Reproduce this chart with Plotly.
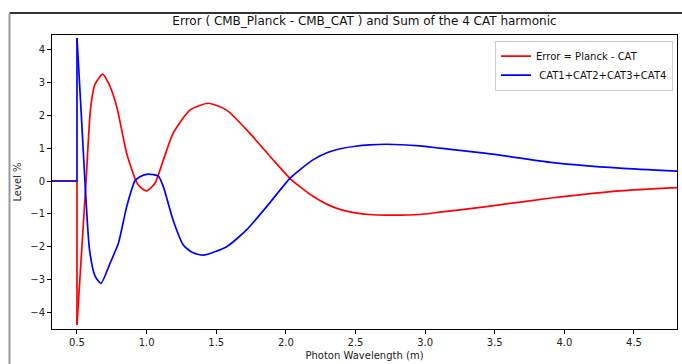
import plotly.graph_objects as go

# Error = Planck - CAT (red): flat part + jump, then the smooth part
err_flat_x = [0.32, 0.5, 0.5]
err_flat_y = [0.0, 0.0, -4.39]
err_x = [0.5, 0.53, 0.565, 0.593, 0.61, 0.63, 0.684, 0.73, 0.785, 0.857, 0.924,
         0.952, 1.0, 1.06, 1.12, 1.19, 1.311, 1.443, 1.575, 1.742, 1.909, 2.034, 2.10,
         2.2, 2.3, 2.4, 2.5, 2.6, 2.723, 2.962, 3.106, 3.441, 3.919, 4.398, 4.81]
err_y = [-4.39, -2.36, 0.0, 2.0, 2.6, 2.95, 3.26, 2.95, 2.27, 0.84, 0.0,
         -0.17, -0.30, -0.07, 0.64, 1.45, 2.16, 2.37, 2.16, 1.45, 0.64, 0.06, -0.17,
         -0.48, -0.72, -0.88, -0.97, -1.02, -1.04, -1.02, -0.95, -0.78, -0.51, -0.30, -0.20]

# CAT1+CAT2+CAT3+CAT4 (blue)
sum_flat_x = [0.32, 0.5, 0.5]
sum_flat_y = [0.0, 0.0, 4.36]
sum_x = [0.5, 0.53, 0.557, 0.59, 0.63, 0.672, 0.737, 0.797, 0.857, 0.916,
         0.952, 1.012, 1.084, 1.12, 1.19, 1.263, 1.33, 1.407, 1.575, 1.718, 1.862, 2.029, 2.10,
         2.2, 2.3, 2.4, 2.5, 2.6, 2.723, 2.962, 3.106, 3.441, 3.919, 4.398, 4.81]
sum_y = [4.36, 2.1, 0.0, -2.1, -2.9, -3.12, -2.51, -1.9, -0.78, 0.0,
         0.13, 0.21, 0.15, -0.17, -1.19, -1.95, -2.18, -2.26, -2.0, -1.49, -0.78, 0.08, 0.34,
         0.66, 0.87, 0.99, 1.06, 1.10, 1.12, 1.07, 1.0, 0.84, 0.56, 0.39, 0.30]

x_ticks = [0.5, 1.0, 1.5, 2.0, 2.5, 3.0, 3.5, 4.0, 4.5]
x_tick_labels = ["0.5", "1.0", "1.5", "2.0", "2.5", "3.0", "3.5", "4.0", "4.5"]
y_ticks = [-4, -3, -2, -1, 0, 1, 2, 3, 4]
y_tick_labels = ["\u22124", "\u22123", "\u22122", "\u22121", "0", "1", "2", "3", "4"]

FONT = "DejaVu Sans"
RED = "#ff0000"
BLUE = "#0000ff"
LW = 1.7

fig = go.Figure()
fig.add_trace(go.Scatter(x=err_flat_x, y=err_flat_y, mode="lines", legendgroup="err",
                         showlegend=False, hoverinfo="skip",
                         line=dict(color=RED, width=LW)))
fig.add_trace(go.Scatter(x=err_x, y=err_y, mode="lines", name="Error = Planck - CAT",
                         legendgroup="err",
                         line=dict(color=RED, width=LW, shape="spline", smoothing=0.6)))
fig.add_trace(go.Scatter(x=sum_flat_x, y=sum_flat_y, mode="lines", legendgroup="sum",
                         showlegend=False, hoverinfo="skip",
                         line=dict(color=BLUE, width=LW)))
fig.add_trace(go.Scatter(x=sum_x, y=sum_y, mode="lines", name=" CAT1+CAT2+CAT3+CAT4",
                         legendgroup="sum",
                         line=dict(color=BLUE, width=LW, shape="spline", smoothing=0.6)))

axis_common = dict(showgrid=False, zeroline=False, showline=True, linecolor="#000000",
                   linewidth=1, mirror=True, ticks="outside", ticklen=4, tickcolor="#000000",
                   tickfont=dict(family=FONT, size=10, color="#222222"))

fig.update_layout(
    width=682, height=364,
    margin=dict(l=52, r=5, t=35, b=35),
    paper_bgcolor="white", plot_bgcolor="white",
    font=dict(family=FONT, color="#222222"),
    title=dict(text="Error ( CMB_Planck - CMB_CAT ) and Sum of the 4 CAT harmonic",
               x=(52 + 677) / 2 / 682, xanchor="center", y=1 - 21 / 364, yanchor="middle",
               font=dict(family=FONT, size=12, color="#111111")),
    xaxis=dict(range=[0.3205, 4.809], tickvals=x_ticks, ticktext=x_tick_labels,
               title=dict(text="Photon Wavelength (m)", font=dict(family=FONT, size=10), standoff=4),
               **axis_common),
    yaxis=dict(range=[-4.51, 4.45], tickvals=y_ticks, ticktext=y_tick_labels,
               title=dict(text="Level %", font=dict(family=FONT, size=10), standoff=6),
               **axis_common),
    showlegend=True,
    legend=dict(x=0.9936, y=0.9806, xanchor="right", yanchor="top",
                bordercolor="#cccccc", borderwidth=1, bgcolor="rgba(255,255,255,0.9)",
                font=dict(family=FONT, size=10, color="#111111"),
                tracegroupgap=0, itemwidth=30),
    shapes=[
        dict(type="line", xref="paper", yref="paper", x0=-0.068, x1=1.2, y0=1.0748, y1=1.0748,
             line=dict(color="#333333", width=2)),
        dict(type="line", xref="paper", yref="paper", x0=-0.068, x1=-0.068, y0=1.0748, y1=-0.3,
             line=dict(color="#999999", width=2)),
    ],
)

fig.write_html("out.html", config={"displayModeBar": False},
               post_script="document.body.style.margin='0';document.body.style.padding='0';")
